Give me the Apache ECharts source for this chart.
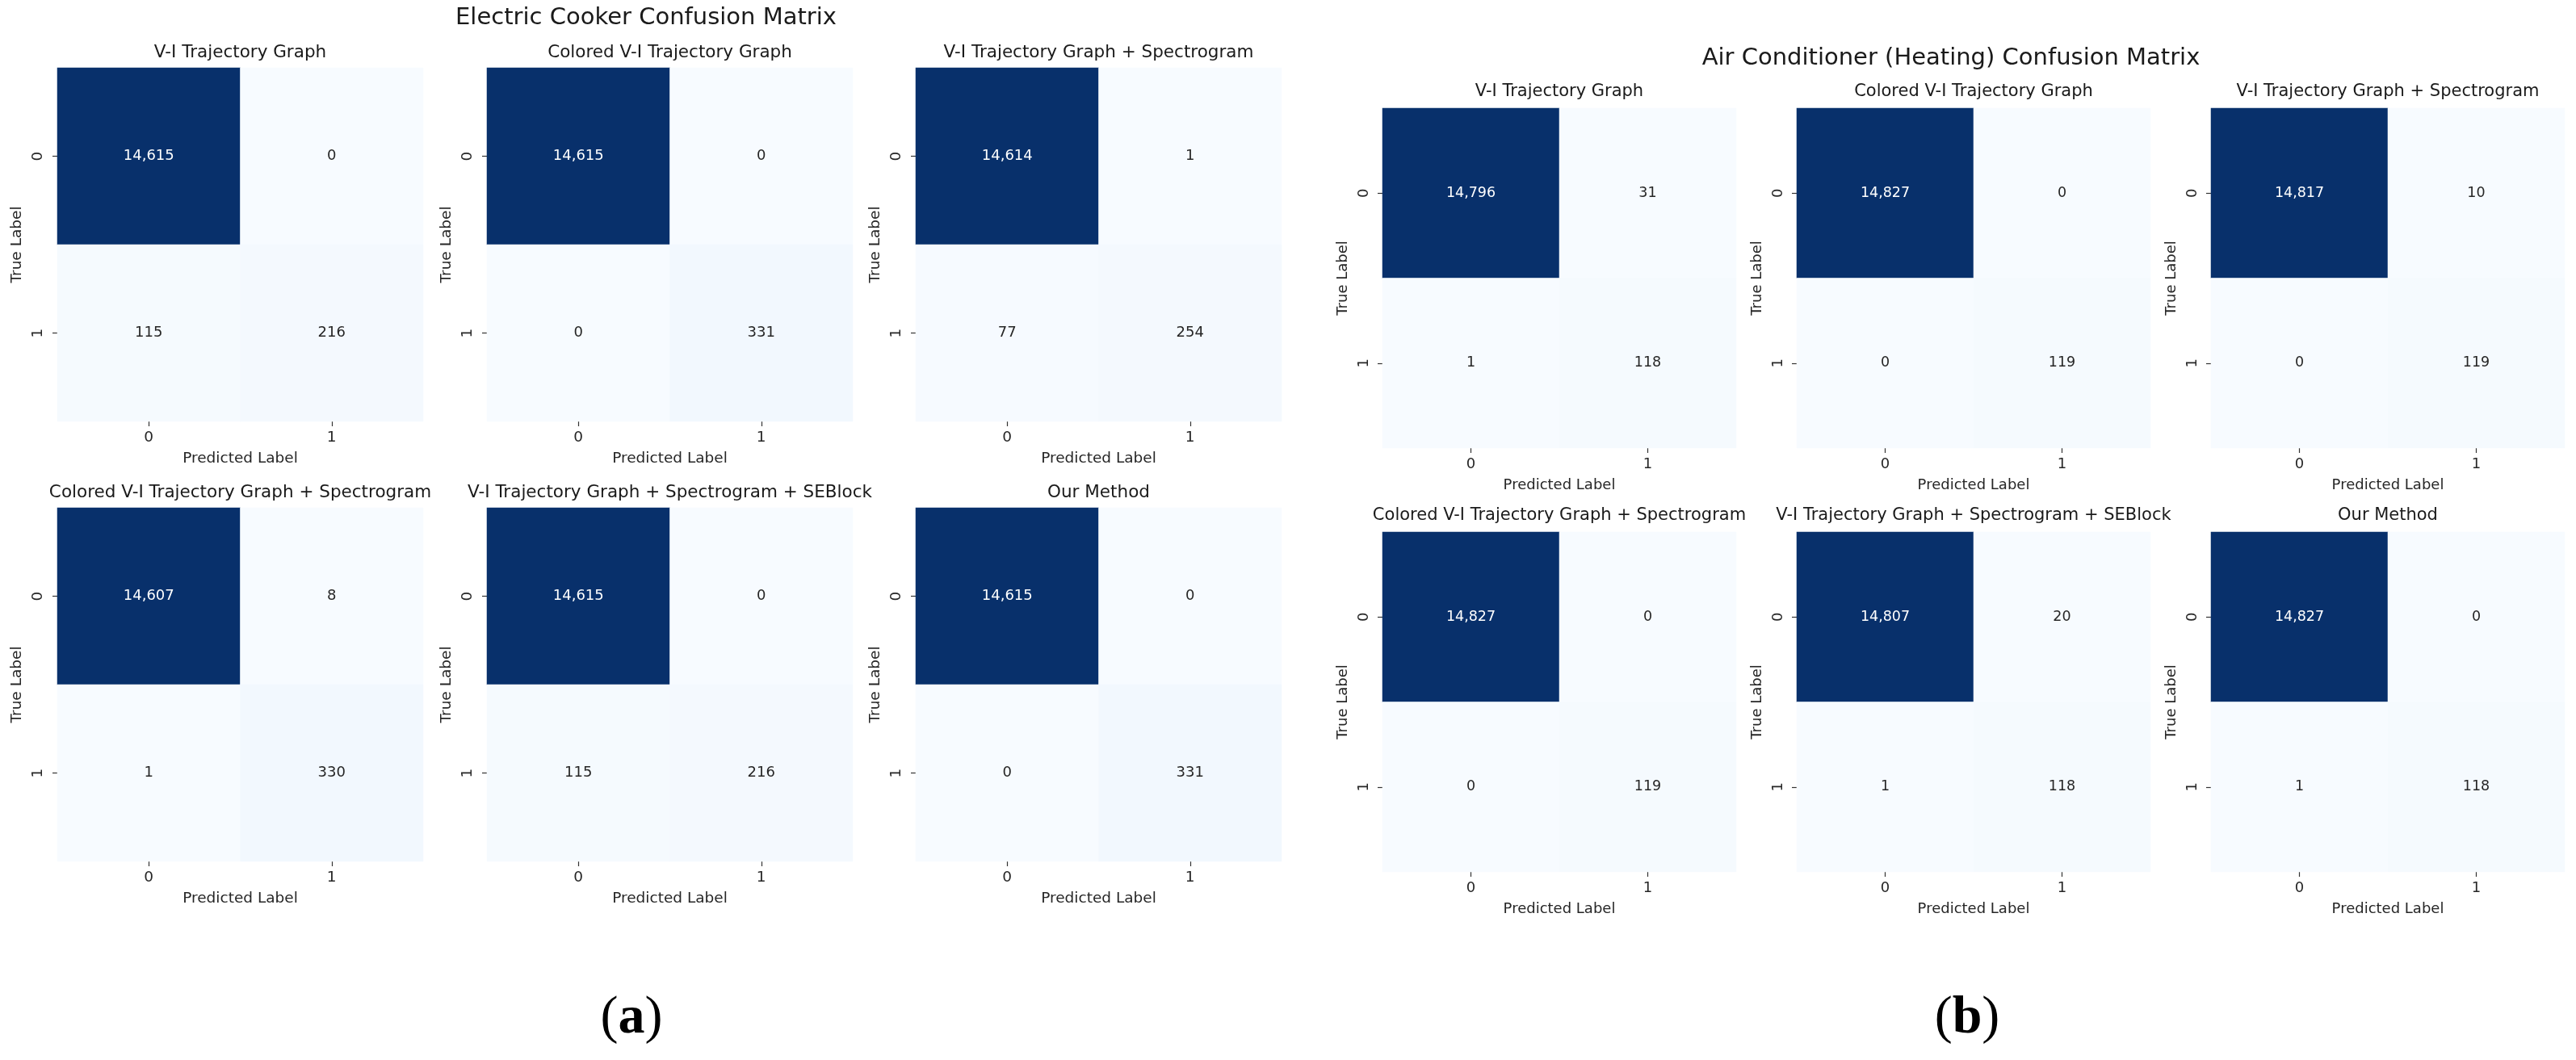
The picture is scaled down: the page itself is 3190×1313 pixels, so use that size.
<!DOCTYPE html>
<html><head><meta charset="utf-8">
<script src="https://cdn.jsdelivr.net/npm/echarts@6/dist/echarts.min.js"></script>
<style>html,body{margin:0;padding:0;background:#fff}#c{width:3190px;height:1313px}</style>
</head><body><div id="c"></div>
<script>
// ---------- data ----------
const classLabels = ['0', '1'];
const cookerTitle = 'Electric Cooker Confusion Matrix';
const acTitle = 'Air Conditioner (Heating) Confusion Matrix';
const methodNames = [
  'V-I Trajectory Graph',
  'Colored V-I Trajectory Graph',
  'V-I Trajectory Graph + Spectrogram',
  'Colored V-I Trajectory Graph + Spectrogram',
  'V-I Trajectory Graph + Spectrogram + SEBlock',
  'Our Method'
];
const xAxisName = 'Predicted Label';
const yAxisName = 'True Label';
// rows = true label, columns = predicted label
const cookerVI         = [[14615, 0], [115, 216]];
const cookerColoredVI  = [[14615, 0], [0, 331]];
const cookerVISpec     = [[14614, 1], [77, 254]];
const cookerColVISpec  = [[14607, 8], [1, 330]];
const cookerVISpecSE   = [[14615, 0], [115, 216]];
const cookerOurs       = [[14615, 0], [0, 331]];
const acVI             = [[14796, 31], [1, 118]];
const acColoredVI      = [[14827, 0], [0, 119]];
const acVISpec         = [[14817, 10], [0, 119]];
const acColVISpec      = [[14827, 0], [0, 119]];
const acVISpecSE       = [[14807, 20], [1, 118]];
const acOurs           = [[14827, 0], [1, 118]];
const cookerMatrices = [cookerVI, cookerColoredVI, cookerVISpec, cookerColVISpec, cookerVISpecSE, cookerOurs];
const acMatrices = [acVI, acColoredVI, acVISpec, acColVISpec, acVISpecSE, acOurs];

// ---------- style / layout ----------
const BLUES = ['#f7fbff','#deebf7','#c6dbef','#9ecae1','#6baed6','#4292c6','#2171b5','#08519c','#08306b'];
const FONT = 'DejaVu Sans';
const TXT = '#262626';
const groups = [
  { mats: cookerMatrices, title: cookerTitle, titleX: 800, titleY: 22, tag: 'a', tagX: 782,
    lefts: [71, 603, 1134], tops: [84, 629], w: 453, h: 438, subOff: 19,
    subSize: 21.5, lblSize: 18.5, annSize: 18 },
  { mats: acMatrices, title: acTitle, titleX: 2416, titleY: 72, tag: 'b', tagX: 2436,
    lefts: [1712, 2225, 2738], tops: [134, 659], w: 438, h: 421, subOff: 20,
    subSize: 21, lblSize: 18, annSize: 17.5 }
];

const grid = [], xAxis = [], yAxis = [], series = [], visualMap = [], title = [];
let k = 0;
groups.forEach(g => {
  title.push({ text: g.title, left: g.titleX, top: g.titleY, textAlign: 'center', textVerticalAlign: 'middle', padding: 0,
    textStyle: { fontFamily: FONT, fontSize: 29, fontWeight: 'normal', color: '#1a1a1a' } });
  title.push({ text: '{p|(}{b|' + g.tag + '}{p|)}', left: g.tagX, top: 1262, textAlign: 'center', textVerticalAlign: 'middle', padding: 0,
    textStyle: { rich: {
      p: { fontFamily: 'Liberation Serif', fontSize: 66, fontWeight: 'normal', color: '#000' },
      b: { fontFamily: 'Liberation Serif', fontSize: 66, fontWeight: 'bold', color: '#000' } } } });
  g.mats.forEach((m, i) => {
    const r = Math.floor(i / 3), c = i % 3;
    const left = g.lefts[c], top = g.tops[r];
    grid.push({ left: left, top: top, width: g.w, height: g.h, containLabel: false });
    title.push({ text: methodNames[i], left: left + g.w / 2, top: top - g.subOff, textAlign: 'center', textVerticalAlign: 'middle', padding: 0,
      textStyle: { fontFamily: FONT, fontSize: g.subSize, fontWeight: 'normal', color: '#1a1a1a' } });
    xAxis.push({ gridIndex: k, type: 'category', data: classLabels, position: 'bottom',
      axisLine: { show: false }, splitLine: { show: false }, splitArea: { show: false },
      axisTick: { show: true, alignWithLabel: true, length: 6, lineStyle: { color: '#333', width: 1.2 } },
      axisLabel: { margin: 11, fontFamily: FONT, fontSize: g.lblSize, color: TXT },
      name: xAxisName, nameLocation: 'middle', nameGap: 37,
      nameTextStyle: { fontFamily: FONT, fontSize: g.lblSize, color: TXT } });
    yAxis.push({ gridIndex: k, type: 'category', data: classLabels, inverse: true,
      axisLine: { show: false }, splitLine: { show: false }, splitArea: { show: false },
      axisTick: { show: true, alignWithLabel: true, length: 6, lineStyle: { color: '#333', width: 1.2 } },
      axisLabel: { margin: 14, rotate: 90, fontFamily: FONT, fontSize: g.lblSize, color: TXT },
      name: yAxisName, nameLocation: 'middle', nameGap: 40,
      nameTextStyle: { fontFamily: FONT, fontSize: g.lblSize, color: TXT } });
    let mn = Infinity, mx = -Infinity;
    m.forEach(row => row.forEach(v => { mn = Math.min(mn, v); mx = Math.max(mx, v); }));
    const data = [];
    m.forEach((row, ri) => row.forEach((v, ci) => {
      const frac = (v - mn) / (mx - mn);
      data.push({ value: [ci, ri, v], label: { color: frac > 0.55 ? '#ffffff' : TXT } });
    }));
    visualMap.push({ type: 'continuous', show: false, seriesIndex: k, dimension: 2, min: mn, max: mx,
      inRange: { color: BLUES } });
    series.push({ type: 'heatmap', xAxisIndex: k, yAxisIndex: k, data: data,
      itemStyle: { borderWidth: 0 },
      emphasis: { disabled: true },
      label: { show: true, fontFamily: FONT, fontSize: g.annSize,
        formatter: p => p.value[2].toLocaleString('en-US') } });
    k++;
  });
});

const chart = echarts.init(document.getElementById('c'));
chart.setOption({ backgroundColor: '#ffffff', animation: false, title, grid, xAxis, yAxis, visualMap, series });
</script>
</body></html>
